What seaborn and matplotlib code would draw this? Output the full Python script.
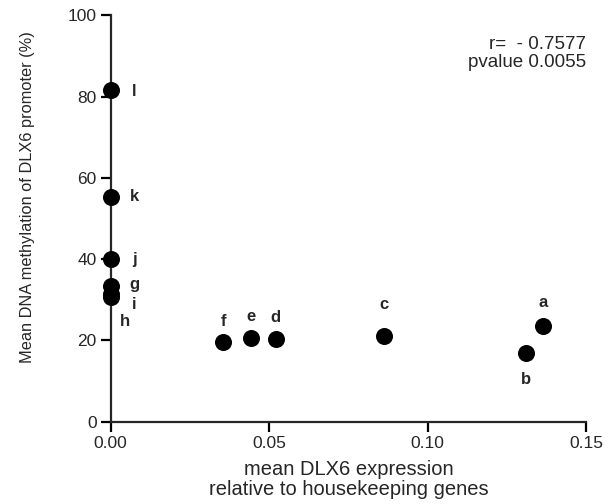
import numpy as np
import pandas as pd
import seaborn as sns
import matplotlib.pyplot as plt

# values
samples = ['a', 'b', 'c', 'd', 'e', 'f', 'g', 'h', 'i', 'j', 'k', 'l']
expression = [0.1366, 0.1310, 0.0863, 0.0521, 0.0443, 0.0355,
              0.0, 0.0, 0.0, 0.0, 0.0, 0.0]
methylation = [23.6, 16.8, 21.2, 20.4, 20.7, 19.5,
               33.3, 31.5, 30.8, 40.0, 55.4, 81.7]

# label offsets in points (dx, dy)
offsets = {'a': (0, 17), 'b': (0, -19), 'c': (0, 22), 'd': (0, 15), 'e': (0, 15.5),
           'f': (0, 15), 'g': (17, 1), 'h': (10, -20), 'i': (17, -6), 'j': (17, 0),
           'k': (17, 0), 'l': (17, -1)}

df = pd.DataFrame({'sample': samples, 'expr': expression, 'meth': methylation})

sns.set_style('ticks')
plt.rcParams['font.family'] = ['Liberation Sans', 'DejaVu Sans']

fig = plt.figure(figsize=(6.09, 5.04), dpi=100)
ax = fig.add_axes([0.1818, 0.1633, 0.7803, 0.8063])

sns.scatterplot(data=df, x='expr', y='meth', ax=ax, color='black',
                s=150, edgecolor='black', linewidth=0, zorder=3)
for c in ax.collections:
    c.set_clip_on(False)

for name, x, y in zip(samples, expression, methylation):
    dx, dy = offsets[name]
    ax.annotate(name, (x, y), xytext=(dx, dy), textcoords='offset points',
                ha='center', va='center', fontsize=12, fontweight='bold')

ax.set_xlim(0, 0.15)
ax.set_ylim(0, 100)
ax.set_xticks([0.0, 0.05, 0.10, 0.15])
ax.set_xticklabels(['0.00', '0.05', '0.10', '0.15'])
ax.set_yticks([0, 20, 40, 60, 80, 100])

for s in ['top', 'right']:
    ax.spines[s].set_visible(False)
for s in ['left', 'bottom']:
    ax.spines[s].set_linewidth(1.6)
ax.tick_params(width=1.6, length=7, labelsize=12.5, color='black', pad=3)

ax.set_xlabel('mean DLX6 expression\nrelative to housekeeping genes',
              fontsize=14.5, linespacing=1.02, labelpad=7)
ax.set_ylabel('Mean DNA methylation of DLX6 promoter (%)', fontsize=11.8)
ax.yaxis.set_label_coords(-0.16, 0.553)

ax.text(0.15, 95, 'r=  - 0.7577\npvalue 0.0055', ha='right', va='top',
        fontsize=13.5, linespacing=1.1)

fig.savefig('out.png', dpi=100)
